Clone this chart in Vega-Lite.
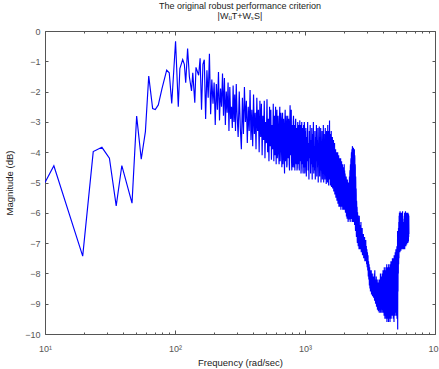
{
  "$schema": "https://vega.github.io/schema/vega-lite/v6.json",
  "autosize": {"type": "none"},
  "padding": {"left": 45, "top": 31, "right": 4, "bottom": 35},
  "width": 390,
  "height": 303,
  "background": "white",
  "title": {
    "text": ["The original robust performance criterion", "|WᵤT+WₛS|"],
    "font": "Liberation Sans",
    "fontSize": 9,
    "fontWeight": "normal",
    "color": "#222222",
    "lineHeight": 10,
    "offset": 6,
    "anchor": "middle"
  },
  "config": {
    "view": {"stroke": null},
    "axis": {
      "grid": false,
      "labelFont": "Liberation Sans",
      "labelFontSize": 9,
      "labelColor": "#555555",
      "titleFont": "Liberation Sans",
      "titleFontSize": 9.5,
      "titleFontWeight": "normal",
      "titleColor": "#222222",
      "domainColor": "#555555",
      "tickColor": "#555555",
      "domainWidth": 1,
      "tickWidth": 1
    }
  },
  "datasets": {
    "mag": [
      {"f": 10, "m": -5.0}, {"f": 11.7, "m": -4.45}, {"f": 19.5, "m": -7.43}, {"f": 23.5, "m": -3.98},
      {"f": 27.4, "m": -3.84}, {"f": 31.3, "m": -4.2}, {"f": 35.3, "m": -5.77}, {"f": 39, "m": -4.44},
      {"f": 46.7, "m": -5.68}, {"f": 50.7, "m": -2.81}, {"f": 55, "m": -4.23}, {"f": 59.2, "m": -3.32},
      {"f": 62.8, "m": -1.49}, {"f": 67.3, "m": -2.56}, {"f": 70.5, "m": -2.59}, {"f": 74.4, "m": -2.44},
      {"f": 79.4, "m": -1.9}, {"f": 86.3, "m": -1.29}, {"f": 90.3, "m": -1.38}, {"f": 94.4, "m": -2.39},
      {"f": 101, "m": -0.34}, {"f": 106, "m": -2.5}, {"f": 109, "m": -1.24}, {"f": 114.6, "m": -0.94},
      {"f": 118, "m": -1.1}, {"f": 120.9, "m": -1.71}, {"f": 125, "m": -0.58}, {"f": 129, "m": -1.51},
      {"f": 134, "m": -1.98}, {"f": 137, "m": -1.38}, {"f": 142, "m": -2.37}, {"f": 145, "m": -1.2},
      {"f": 152, "m": -1.46},
      {"f": 156, "m": -0.9}, {"f": 160, "m": -2.6}, {"f": 164, "m": -1.1}, {"f": 168, "m": -0.95},
      {"f": 172, "m": -2.9}, {"f": 176, "m": -1.3}, {"f": 180, "m": -2.2}, {"f": 184, "m": -0.75},
      {"f": 188, "m": -2.75}, {"f": 192, "m": -1.6}, {"f": 196, "m": -2.4}, {"f": 200, "m": -1.7},
      {"f": 204, "m": -3.1}, {"f": 208, "m": -1.75}, {"f": 212, "m": -2.6}, {"f": 216, "m": -1.35},
      {"f": 220, "m": -2.95}, {"f": 224, "m": -1.9}, {"f": 228, "m": -2.5}, {"f": 232, "m": -1.4},
      {"f": 236, "m": -2.8}, {"f": 240, "m": -1.55}, {"f": 244, "m": -3.1}, {"f": 248, "m": -2.0},
      {"f": 252, "m": -2.7}, {"f": 256, "m": -1.7}, {"f": 260, "m": -3.3}, {"f": 264, "m": -1.85},
      {"f": 268, "m": -2.9}, {"f": 272, "m": -2.5}, {"f": 276, "m": -3.2}, {"f": 280, "m": -1.8},
      {"f": 284, "m": -3.0}, {"f": 288, "m": -2.1}, {"f": 292, "m": -3.3}, {"f": 296, "m": -1.75},
      {"f": 300, "m": -2.7},
      {"f": 306, "m": -3.5}, {"f": 312, "m": -2.0}, {"f": 318, "m": -3.2}, {"f": 324, "m": -3.9},
      {"f": 330, "m": -2.2}, {"f": 336, "m": -3.4}, {"f": 342, "m": -1.85}, {"f": 348, "m": -3.0},
      {"f": 354, "m": -2.3}, {"f": 360, "m": -3.7}, {"f": 366, "m": -2.5}, {"f": 372, "m": -3.3},
      {"f": 378, "m": -1.95}, {"f": 384, "m": -3.6}, {"f": 390, "m": -2.6}, {"f": 396, "m": -3.8},
      {"f": 402, "m": -2.1}, {"f": 408, "m": -3.4}, {"f": 414, "m": -2.7}, {"f": 420, "m": -3.9},
      {"f": 426, "m": -2.2}, {"f": 432, "m": -3.3}, {"f": 438, "m": -2.6}, {"f": 444, "m": -4.0},
      {"f": 450, "m": -2.3}, {"f": 456, "m": -3.5}, {"f": 462, "m": -2.4}, {"f": 468, "m": -4.1},
      {"f": 474, "m": -2.8}, {"f": 480, "m": -3.6}, {"f": 486, "m": -2.3}, {"f": 492, "m": -4.2},
      {"f": 498, "m": -3.0}, {"f": 504, "m": -3.7}, {"f": 510, "m": -2.25}, {"f": 516, "m": -4.0},
      {"f": 522, "m": -2.9}, {"f": 528, "m": -4.3}, {"f": 534, "m": -2.5}, {"f": 540, "m": -3.8},
      {"f": 546, "m": -2.6}, {"f": 552, "m": -4.25}, {"f": 558, "m": -3.1}, {"f": 564, "m": -3.9},
      {"f": 570, "m": -2.4}, {"f": 576, "m": -4.3}, {"f": 582, "m": -2.8}, {"f": 588, "m": -4.1},
      {"f": 594, "m": -2.5}, {"f": 600, "m": -4.4},
      {"f": 604, "m": -3.0}, {"f": 608, "m": -2.6}, {"f": 612, "m": -4.2}, {"f": 616, "m": -4.0},
      {"f": 620, "m": -2.8}, {"f": 624, "m": -3.2}, {"f": 628, "m": -4.1}, {"f": 632, "m": -4.4},
      {"f": 636, "m": -2.9}, {"f": 640, "m": -2.5}, {"f": 644, "m": -4.3}, {"f": 648, "m": -3.8},
      {"f": 652, "m": -2.7}, {"f": 656, "m": -2.9}, {"f": 660, "m": -4.0}, {"f": 664, "m": -4.5},
      {"f": 668, "m": -3.1}, {"f": 672, "m": -2.7}, {"f": 676, "m": -4.4}, {"f": 680, "m": -4.1},
      {"f": 684, "m": -2.9}, {"f": 688, "m": -3.3}, {"f": 692, "m": -4.2}, {"f": 696, "m": -4.7},
      {"f": 700, "m": -3.0}, {"f": 704, "m": -2.6}, {"f": 708, "m": -4.3}, {"f": 712, "m": -3.9},
      {"f": 716, "m": -2.8}, {"f": 720, "m": -3.0}, {"f": 724, "m": -4.5}, {"f": 728, "m": -4.4},
      {"f": 732, "m": -3.2}, {"f": 736, "m": -2.8}, {"f": 740, "m": -4.0}, {"f": 744, "m": -4.2},
      {"f": 748, "m": -2.9}, {"f": 752, "m": -3.4}, {"f": 756, "m": -4.4}, {"f": 760, "m": -4.6},
      {"f": 764, "m": -3.0}, {"f": 768, "m": -2.45}, {"f": 772, "m": -4.1}, {"f": 776, "m": -3.7},
      {"f": 780, "m": -2.7}, {"f": 784, "m": -2.6}, {"f": 788, "m": -4.3}, {"f": 792, "m": -4.6},
      {"f": 796, "m": -3.3}, {"f": 800, "m": -3.1}, {"f": 804, "m": -4.5}, {"f": 808, "m": -4.2},
      {"f": 812, "m": -3.0}, {"f": 816, "m": -2.8}, {"f": 820, "m": -4.3}, {"f": 824, "m": -4.5},
      {"f": 828, "m": -3.1}, {"f": 832, "m": -3.3}, {"f": 836, "m": -4.6}, {"f": 840, "m": -4.0},
      {"f": 844, "m": -3.0}, {"f": 848, "m": -2.9}, {"f": 852, "m": -4.2}, {"f": 856, "m": -4.4},
      {"f": 860, "m": -3.2}, {"f": 864, "m": -3.5}, {"f": 868, "m": -4.6}, {"f": 872, "m": -4.5},
      {"f": 876, "m": -3.3}, {"f": 880, "m": -3.0}, {"f": 884, "m": -4.4}, {"f": 888, "m": -4.1},
      {"f": 892, "m": -3.1}, {"f": 896, "m": -3.2}, {"f": 900, "m": -4.5}, {"f": 904, "m": -4.6},
      {"f": 908, "m": -3.4}, {"f": 912, "m": -2.95}, {"f": 916, "m": -4.2}, {"f": 920, "m": -4.3},
      {"f": 924, "m": -3.1}, {"f": 928, "m": -3.4}, {"f": 932, "m": -4.7}, {"f": 936, "m": -4.5},
      {"f": 940, "m": -3.3}, {"f": 944, "m": -3.0}, {"f": 948, "m": -4.4}, {"f": 952, "m": -4.2},
      {"f": 956, "m": -3.2}, {"f": 960, "m": -3.3}, {"f": 964, "m": -4.6}, {"f": 968, "m": -4.7},
      {"f": 972, "m": -3.4}, {"f": 976, "m": -3.1}, {"f": 980, "m": -4.5}, {"f": 984, "m": -4.4},
      {"f": 988, "m": -3.0}, {"f": 992, "m": -3.2}, {"f": 996, "m": -4.7}, {"f": 1000, "m": -4.6},
      {"f": 1004, "m": -3.3},
      {"f": 1008, "m": -4.5}, {"f": 1016, "m": -3.2}, {"f": 1024, "m": -4.8}, {"f": 1032, "m": -3.5},
      {"f": 1040, "m": -4.3}, {"f": 1048, "m": -3.0}, {"f": 1056, "m": -4.6}, {"f": 1064, "m": -3.7},
      {"f": 1072, "m": -4.9}, {"f": 1080, "m": -3.3}, {"f": 1088, "m": -4.2}, {"f": 1096, "m": -3.1},
      {"f": 1104, "m": -4.7}, {"f": 1112, "m": -3.6}, {"f": 1120, "m": -4.4}, {"f": 1128, "m": -3.2},
      {"f": 1136, "m": -4.9}, {"f": 1144, "m": -3.4}, {"f": 1152, "m": -4.5}, {"f": 1160, "m": -3.0},
      {"f": 1168, "m": -4.7}, {"f": 1176, "m": -3.8}, {"f": 1184, "m": -4.6}, {"f": 1192, "m": -3.3},
      {"f": 1200, "m": -4.9}, {"f": 1208, "m": -3.5}, {"f": 1216, "m": -4.3}, {"f": 1224, "m": -3.1},
      {"f": 1232, "m": -4.8}, {"f": 1240, "m": -3.6}, {"f": 1248, "m": -4.5}, {"f": 1256, "m": -3.2},
      {"f": 1264, "m": -5.0}, {"f": 1272, "m": -3.7}, {"f": 1280, "m": -4.4}, {"f": 1288, "m": -3.15},
      {"f": 1296, "m": -4.8}, {"f": 1304, "m": -3.5}, {"f": 1312, "m": -4.6}, {"f": 1320, "m": -3.2},
      {"f": 1328, "m": -5.0}, {"f": 1336, "m": -3.8}, {"f": 1344, "m": -4.5}, {"f": 1352, "m": -3.3},
      {"f": 1360, "m": -4.9}, {"f": 1368, "m": -3.6}, {"f": 1376, "m": -4.7}, {"f": 1384, "m": -3.1},
      {"f": 1392, "m": -5.0}, {"f": 1400, "m": -3.9}, {"f": 1408, "m": -4.6}, {"f": 1416, "m": -3.4},
      {"f": 1424, "m": -4.9}, {"f": 1432, "m": -3.2}, {"f": 1440, "m": -4.7}, {"f": 1448, "m": -3.6},
      {"f": 1456, "m": -5.05}, {"f": 1464, "m": -3.3}, {"f": 1472, "m": -4.6}, {"f": 1480, "m": -3.8},
      {"f": 1488, "m": -5.0}, {"f": 1496, "m": -3.1}, {"f": 1504, "m": -4.8}, {"f": 1512, "m": -3.5},
      {"f": 1520, "m": -5.1}, {"f": 1528, "m": -3.3}, {"f": 1536, "m": -4.7}, {"f": 1544, "m": -2.95},
      {"f": 1552, "m": -4.9}, {"f": 1560, "m": -3.4}, {"f": 1568, "m": -5.1}, {"f": 1576, "m": -3.6},
      {"f": 1584, "m": -4.8}, {"f": 1592, "m": -3.3}, {"f": 1600, "m": -5.15}, {"f": 1608, "m": -3.8},
      {"f": 1616, "m": -4.9}, {"f": 1624, "m": -3.5}, {"f": 1632, "m": -5.2}, {"f": 1640, "m": -3.9},
      {"f": 1648, "m": -4.8}, {"f": 1656, "m": -3.6}, {"f": 1664, "m": -5.3}, {"f": 1672, "m": -4.0},
      {"f": 1680, "m": -5.0}, {"f": 1688, "m": -3.7}, {"f": 1696, "m": -5.4}, {"f": 1704, "m": -4.1},
      {"f": 1712, "m": -5.1}, {"f": 1720, "m": -3.9}, {"f": 1728, "m": -5.5}, {"f": 1736, "m": -4.2},
      {"f": 1744, "m": -5.2}, {"f": 1752, "m": -4.0}, {"f": 1760, "m": -5.6}, {"f": 1768, "m": -4.3},
      {"f": 1776, "m": -5.3}, {"f": 1784, "m": -4.0}, {"f": 1792, "m": -5.7}, {"f": 1800, "m": -4.4},
      {"f": 1808, "m": -5.4}, {"f": 1816, "m": -4.1}, {"f": 1824, "m": -5.8}, {"f": 1832, "m": -4.3},
      {"f": 1840, "m": -5.5}, {"f": 1848, "m": -4.2}, {"f": 1856, "m": -5.8}, {"f": 1864, "m": -4.5},
      {"f": 1872, "m": -5.6}, {"f": 1880, "m": -4.2}, {"f": 1888, "m": -5.9}, {"f": 1896, "m": -4.4},
      {"f": 1904, "m": -5.6}, {"f": 1912, "m": -4.3}, {"f": 1920, "m": -5.8}, {"f": 1928, "m": -4.6},
      {"f": 1936, "m": -5.5}, {"f": 1944, "m": -4.4}, {"f": 1952, "m": -5.9}, {"f": 1960, "m": -4.7},
      {"f": 1968, "m": -5.7}, {"f": 1976, "m": -4.5}, {"f": 1984, "m": -5.9}, {"f": 1992, "m": -4.6},
      {"f": 2000, "m": -5.8}, {"f": 2004, "m": -4.4},
      {"f": 2008, "m": -5.9}, {"f": 2013, "m": -4.9}, {"f": 2018, "m": -4.6}, {"f": 2023, "m": -5.8},
      {"f": 2028, "m": -5.7}, {"f": 2033, "m": -4.7}, {"f": 2038, "m": -4.8}, {"f": 2043, "m": -5.9},
      {"f": 2048, "m": -6.0}, {"f": 2053, "m": -4.9}, {"f": 2058, "m": -5.0}, {"f": 2063, "m": -6.0},
      {"f": 2068, "m": -5.8}, {"f": 2073, "m": -4.8}, {"f": 2078, "m": -4.9}, {"f": 2083, "m": -6.1},
      {"f": 2088, "m": -6.1}, {"f": 2093, "m": -5.0}, {"f": 2098, "m": -5.1}, {"f": 2103, "m": -6.0},
      {"f": 2108, "m": -6.2}, {"f": 2113, "m": -5.2}, {"f": 2118, "m": -4.9}, {"f": 2123, "m": -6.1},
      {"f": 2128, "m": -5.9}, {"f": 2133, "m": -5.0}, {"f": 2138, "m": -5.2}, {"f": 2143, "m": -6.2},
      {"f": 2148, "m": -6.3}, {"f": 2153, "m": -5.1}, {"f": 2158, "m": -5.0}, {"f": 2163, "m": -6.0},
      {"f": 2168, "m": -6.1}, {"f": 2173, "m": -5.2}, {"f": 2178, "m": -5.3}, {"f": 2183, "m": -6.2},
      {"f": 2188, "m": -6.2}, {"f": 2193, "m": -5.0}, {"f": 2198, "m": -4.8}, {"f": 2203, "m": -6.1},
      {"f": 2208, "m": -6.0}, {"f": 2213, "m": -4.7}, {"f": 2218, "m": -4.6}, {"f": 2223, "m": -6.2},
      {"f": 2228, "m": -6.3}, {"f": 2233, "m": -4.5}, {"f": 2238, "m": -4.4}, {"f": 2243, "m": -6.0},
      {"f": 2248, "m": -6.1}, {"f": 2253, "m": -4.3}, {"f": 2258, "m": -4.2}, {"f": 2263, "m": -6.1},
      {"f": 2268, "m": -6.2}, {"f": 2273, "m": -4.1}, {"f": 2278, "m": -4.0}, {"f": 2283, "m": -6.2},
      {"f": 2288, "m": -6.0}, {"f": 2293, "m": -4.0}, {"f": 2298, "m": -3.9}, {"f": 2303, "m": -6.1},
      {"f": 2308, "m": -6.3}, {"f": 2313, "m": -3.9}, {"f": 2318, "m": -3.8}, {"f": 2323, "m": -6.2},
      {"f": 2328, "m": -6.1}, {"f": 2333, "m": -3.9}, {"f": 2338, "m": -4.0}, {"f": 2343, "m": -6.3},
      {"f": 2348, "m": -6.2}, {"f": 2353, "m": -3.9}, {"f": 2358, "m": -3.85}, {"f": 2363, "m": -6.1},
      {"f": 2368, "m": -6.3}, {"f": 2373, "m": -4.0}, {"f": 2378, "m": -4.1}, {"f": 2383, "m": -6.2},
      {"f": 2388, "m": -6.0}, {"f": 2393, "m": -3.95}, {"f": 2398, "m": -3.9}, {"f": 2403, "m": -6.3},
      {"f": 2408, "m": -6.4}, {"f": 2413, "m": -4.1}, {"f": 2418, "m": -4.2}, {"f": 2423, "m": -6.3},
      {"f": 2428, "m": -6.2}, {"f": 2433, "m": -4.4}, {"f": 2438, "m": -4.5}, {"f": 2443, "m": -6.5},
      {"f": 2448, "m": -6.6}, {"f": 2453, "m": -4.8}, {"f": 2458, "m": -5.0}, {"f": 2463, "m": -6.6},
      {"f": 2468, "m": -6.5}, {"f": 2473, "m": -5.2}, {"f": 2478, "m": -5.4}, {"f": 2483, "m": -6.7},
      {"f": 2488, "m": -6.8}, {"f": 2493, "m": -5.6}, {"f": 2498, "m": -5.7}, {"f": 2503, "m": -6.8},
      {"f": 2508, "m": -6.7}, {"f": 2513, "m": -5.8}, {"f": 2518, "m": -5.9}, {"f": 2523, "m": -6.9},
      {"f": 2528, "m": -7.0}, {"f": 2533, "m": -6.0}, {"f": 2538, "m": -6.0}, {"f": 2543, "m": -7.0},
      {"f": 2548, "m": -6.9}, {"f": 2553, "m": -6.1}, {"f": 2558, "m": -6.1}, {"f": 2563, "m": -7.0},
      {"f": 2568, "m": -7.1}, {"f": 2573, "m": -6.2}, {"f": 2578, "m": -6.2}, {"f": 2583, "m": -7.1},
      {"f": 2588, "m": -7.0}, {"f": 2593, "m": -6.3}, {"f": 2598, "m": -6.3}, {"f": 2603, "m": -7.2},
      {"f": 2608, "m": -7.1}, {"f": 2613, "m": -6.1}, {"f": 2618, "m": -6.2}, {"f": 2623, "m": -7.1},
      {"f": 2628, "m": -7.2}, {"f": 2633, "m": -6.4}, {"f": 2638, "m": -6.5}, {"f": 2643, "m": -7.2},
      {"f": 2648, "m": -7.1},
      {"f": 2663, "m": -6.4}, {"f": 2678, "m": -7.2}, {"f": 2693, "m": -6.3}, {"f": 2708, "m": -7.3},
      {"f": 2723, "m": -6.6}, {"f": 2738, "m": -7.2}, {"f": 2753, "m": -6.5}, {"f": 2768, "m": -7.4},
      {"f": 2783, "m": -6.8}, {"f": 2798, "m": -7.3}, {"f": 2813, "m": -6.7}, {"f": 2828, "m": -7.5},
      {"f": 2843, "m": -6.9}, {"f": 2858, "m": -7.4}, {"f": 2873, "m": -6.8}, {"f": 2888, "m": -7.6},
      {"f": 2903, "m": -7.0}, {"f": 2918, "m": -7.5}, {"f": 2933, "m": -6.9}, {"f": 2948, "m": -7.6},
      {"f": 2963, "m": -7.1}, {"f": 2978, "m": -7.7}, {"f": 2993, "m": -7.2}, {"f": 3008, "m": -7.8},
      {"f": 3023, "m": -7.3}, {"f": 3038, "m": -7.9}, {"f": 3053, "m": -7.4}, {"f": 3068, "m": -8.1},
      {"f": 3083, "m": -7.6}, {"f": 3098, "m": -8.2}, {"f": 3113, "m": -7.7}, {"f": 3128, "m": -8.4},
      {"f": 3143, "m": -7.8}, {"f": 3158, "m": -8.5}, {"f": 3173, "m": -7.9}, {"f": 3188, "m": -8.6},
      {"f": 3203, "m": -8.0}, {"f": 3218, "m": -8.5}, {"f": 3233, "m": -7.9}, {"f": 3248, "m": -8.7},
      {"f": 3263, "m": -8.1}, {"f": 3278, "m": -8.6}, {"f": 3293, "m": -8.0}, {"f": 3308, "m": -8.75},
      {"f": 3323, "m": -8.2}, {"f": 3338, "m": -8.6}, {"f": 3353, "m": -8.1}, {"f": 3368, "m": -8.8},
      {"f": 3383, "m": -8.2}, {"f": 3398, "m": -8.7}, {"f": 3413, "m": -8.0}, {"f": 3428, "m": -8.9},
      {"f": 3443, "m": -7.9}, {"f": 3458, "m": -8.8}, {"f": 3473, "m": -8.2}, {"f": 3488, "m": -9.0},
      {"f": 3503, "m": -8.3}, {"f": 3518, "m": -8.9}, {"f": 3533, "m": -8.1}, {"f": 3548, "m": -9.1},
      {"f": 3563, "m": -8.3}, {"f": 3578, "m": -9.0}, {"f": 3593, "m": -8.2}, {"f": 3608, "m": -9.2},
      {"f": 3623, "m": -8.4}, {"f": 3638, "m": -9.1}, {"f": 3653, "m": -8.3}, {"f": 3668, "m": -9.25},
      {"f": 3683, "m": -8.4}, {"f": 3698, "m": -9.0}, {"f": 3713, "m": -8.2}, {"f": 3728, "m": -9.3},
      {"f": 3743, "m": -8.3}, {"f": 3758, "m": -9.1}, {"f": 3773, "m": -8.2}, {"f": 3788, "m": -9.2},
      {"f": 3803, "m": -8.0}, {"f": 3818, "m": -9.3}, {"f": 3833, "m": -8.3}, {"f": 3848, "m": -9.1},
      {"f": 3863, "m": -8.1}, {"f": 3878, "m": -9.2}, {"f": 3893, "m": -8.2}, {"f": 3908, "m": -9.3},
      {"f": 3923, "m": -8.0}, {"f": 3938, "m": -9.1}, {"f": 3953, "m": -8.1}, {"f": 3968, "m": -9.2},
      {"f": 3983, "m": -7.9}, {"f": 3998, "m": -9.3},
      {"f": 4013, "m": -7.9}, {"f": 4028, "m": -9.2}, {"f": 4043, "m": -8.0}, {"f": 4058, "m": -9.4},
      {"f": 4073, "m": -7.8}, {"f": 4088, "m": -9.3}, {"f": 4103, "m": -8.1}, {"f": 4118, "m": -9.5},
      {"f": 4133, "m": -7.9}, {"f": 4148, "m": -9.2}, {"f": 4163, "m": -8.2}, {"f": 4178, "m": -9.4},
      {"f": 4193, "m": -7.8}, {"f": 4208, "m": -9.5}, {"f": 4223, "m": -8.0}, {"f": 4238, "m": -9.3},
      {"f": 4253, "m": -7.7}, {"f": 4268, "m": -9.6}, {"f": 4283, "m": -8.1}, {"f": 4298, "m": -9.4},
      {"f": 4313, "m": -7.9}, {"f": 4328, "m": -9.5}, {"f": 4343, "m": -7.8}, {"f": 4358, "m": -9.3},
      {"f": 4373, "m": -8.0}, {"f": 4388, "m": -9.6}, {"f": 4403, "m": -7.7}, {"f": 4418, "m": -9.4},
      {"f": 4433, "m": -7.9}, {"f": 4448, "m": -9.5}, {"f": 4463, "m": -7.8}, {"f": 4478, "m": -9.3},
      {"f": 4493, "m": -8.0}, {"f": 4508, "m": -9.6}, {"f": 4523, "m": -7.7}, {"f": 4538, "m": -9.4},
      {"f": 4553, "m": -7.8}, {"f": 4568, "m": -9.2}, {"f": 4583, "m": -7.6}, {"f": 4598, "m": -9.5},
      {"f": 4613, "m": -7.9}, {"f": 4628, "m": -9.3}, {"f": 4643, "m": -7.6}, {"f": 4658, "m": -9.1},
      {"f": 4673, "m": -7.8}, {"f": 4688, "m": -9.4}, {"f": 4703, "m": -7.5}, {"f": 4718, "m": -9.0},
      {"f": 4733, "m": -7.7}, {"f": 4748, "m": -9.3}, {"f": 4763, "m": -7.6}, {"f": 4778, "m": -9.5},
      {"f": 4793, "m": -7.5}, {"f": 4808, "m": -9.2}, {"f": 4823, "m": -7.7}, {"f": 4838, "m": -9.6},
      {"f": 4853, "m": -7.4}, {"f": 4868, "m": -9.1}, {"f": 4883, "m": -7.6}, {"f": 4898, "m": -9.4},
      {"f": 4913, "m": -7.5}, {"f": 4928, "m": -9.0}, {"f": 4943, "m": -7.3}, {"f": 4958, "m": -9.3},
      {"f": 4973, "m": -7.5}, {"f": 4988, "m": -9.1}, {"f": 5003, "m": -7.2}, {"f": 5018, "m": -9.4},
      {"f": 5033, "m": -7.4}, {"f": 5048, "m": -9.0}, {"f": 5063, "m": -7.3}, {"f": 5078, "m": -9.2},
      {"f": 5093, "m": -7.1}, {"f": 5108, "m": -9.5}, {"f": 5123, "m": -7.3}, {"f": 5138, "m": -9.0},
      {"f": 5153, "m": -6.6}, {"f": 5164, "m": -9.85}, {"f": 5178, "m": -7.0}, {"f": 5193, "m": -8.6},
      {"f": 5208, "m": -6.8}, {"f": 5223, "m": -8.0}, {"f": 5238, "m": -6.5}, {"f": 5253, "m": -7.7},
      {"f": 5268, "m": -6.3}, {"f": 5283, "m": -7.5}, {"f": 5298, "m": -6.1}, {"f": 5313, "m": -7.3},
      {"f": 5328, "m": -6.0}, {"f": 5343, "m": -7.2}, {"f": 5358, "m": -6.1}, {"f": 5373, "m": -7.3},
      {"f": 5388, "m": -5.95}, {"f": 5403, "m": -7.2}, {"f": 5418, "m": -6.1}, {"f": 5433, "m": -7.1},
      {"f": 5448, "m": -6.0}, {"f": 5463, "m": -7.25}, {"f": 5478, "m": -6.1}, {"f": 5493, "m": -7.1},
      {"f": 5508, "m": -6.0}, {"f": 5523, "m": -7.2}, {"f": 5538, "m": -6.1}, {"f": 5553, "m": -7.1},
      {"f": 5568, "m": -6.0}, {"f": 5583, "m": -7.0}, {"f": 5598, "m": -6.1}, {"f": 5613, "m": -7.2},
      {"f": 5628, "m": -5.95}, {"f": 5643, "m": -7.1}, {"f": 5658, "m": -6.2}, {"f": 5673, "m": -7.15},
      {"f": 5688, "m": -6.4}, {"f": 5703, "m": -7.0}, {"f": 5718, "m": -6.5}, {"f": 5733, "m": -7.2},
      {"f": 5748, "m": -6.4}, {"f": 5763, "m": -7.1}, {"f": 5778, "m": -6.3}, {"f": 5793, "m": -7.15},
      {"f": 5808, "m": -6.1}, {"f": 5823, "m": -7.0}, {"f": 5838, "m": -6.0}, {"f": 5853, "m": -7.2},
      {"f": 5868, "m": -6.05}, {"f": 5883, "m": -7.0}, {"f": 5898, "m": -6.0}, {"f": 5913, "m": -7.1},
      {"f": 5928, "m": -5.95}, {"f": 5943, "m": -6.9}, {"f": 5958, "m": -6.1}, {"f": 5973, "m": -7.1},
      {"f": 5988, "m": -6.0}, {"f": 6003, "m": -6.95}, {"f": 6018, "m": -6.1}, {"f": 6033, "m": -7.0},
      {"f": 6048, "m": -6.0}, {"f": 6063, "m": -7.05}, {"f": 6078, "m": -6.1}, {"f": 6093, "m": -6.9},
      {"f": 6108, "m": -6.0}, {"f": 6123, "m": -7.0}, {"f": 6138, "m": -6.05}, {"f": 6153, "m": -6.9},
      {"f": 6168, "m": -6.1}, {"f": 6183, "m": -7.0}, {"f": 6198, "m": -6.0}, {"f": 6213, "m": -6.85},
      {"f": 6228, "m": -6.1}, {"f": 6243, "m": -6.95}, {"f": 6258, "m": -6.05}, {"f": 6273, "m": -6.8},
      {"f": 6288, "m": -6.1}, {"f": 6303, "m": -6.7}
    ],
    "frame": [{"f": 10, "m": -10}]
  },
  "resolve": {"axis": {"x": "independent", "y": "independent"}},
  "layer": [
    {
      "data": {"name": "mag"},
      "mark": {"type": "line", "color": "#0000ff", "strokeWidth": 1.15, "clip": true},
      "encoding": {
        "x": {
          "field": "f", "type": "quantitative",
          "scale": {"type": "log", "domain": [10, 10000], "nice": false},
          "axis": {
            "orient": "bottom",
            "title": "Frequency  (rad/sec)",
            "titlePadding": 2,
            "values": [10, 20, 30, 40, 50, 60, 70, 80, 90, 100, 200, 300, 400, 500, 600, 700, 800, 900, 1000, 2000, 3000, 4000, 5000, 6000, 7000, 8000, 9000, 10000],
            "labelExpr": "datum.value == 10 ? '10¹' : datum.value == 100 ? '10²' : datum.value == 1000 ? '10³' : datum.value == 10000 ? '10⁴' : ''",
            "tickSize": {"condition": {"test": "indexof([10,100,1000,10000], datum.value) >= 0", "value": -4}, "value": -2},
            "labelPadding": 14,
            "labelFlush": false,
            "labelOverlap": false
          }
        },
        "y": {
          "field": "m", "type": "quantitative",
          "scale": {"domain": [-10, 0], "nice": false, "zero": false},
          "axis": {
            "orient": "left",
            "title": "Magnitude (dB)",
            "titlePadding": 10,
            "values": [-10, -9, -8, -7, -6, -5, -4, -3, -2, -1, 0],
            "tickSize": -3,
            "labelPadding": 8,
            "labelFlush": false,
            "labelOverlap": false
          }
        }
      }
    },
    {
      "data": {"name": "frame"},
      "mark": {"type": "point", "opacity": 0},
      "encoding": {
        "x": {
          "field": "f", "type": "quantitative",
          "scale": {"type": "log", "domain": [10, 10000], "nice": false},
          "axis": {
            "orient": "top",
            "title": null,
            "labels": false,
            "values": [10, 20, 30, 40, 50, 60, 70, 80, 90, 100, 200, 300, 400, 500, 600, 700, 800, 900, 1000, 2000, 3000, 4000, 5000, 6000, 7000, 8000, 9000, 10000],
            "tickSize": {"condition": {"test": "indexof([10,100,1000,10000], datum.value) >= 0", "value": -4}, "value": -2}
          }
        },
        "y": {
          "field": "m", "type": "quantitative",
          "scale": {"domain": [-10, 0], "nice": false, "zero": false},
          "axis": {
            "orient": "right",
            "title": null,
            "labels": false,
            "values": [-10, -9, -8, -7, -6, -5, -4, -3, -2, -1, 0],
            "tickSize": -3
          }
        }
      }
    }
  ]
}
